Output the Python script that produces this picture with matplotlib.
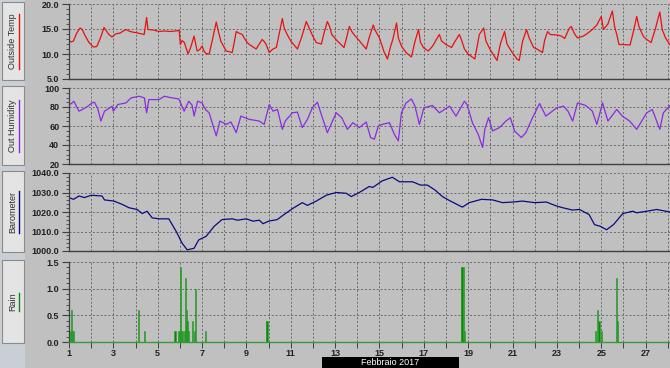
import matplotlib
matplotlib.use("Agg")
import matplotlib.pyplot as plt
from matplotlib.patches import Rectangle
from matplotlib.lines import Line2D
from matplotlib.ticker import MultipleLocator, FormatStrFormatter, FixedLocator, FixedFormatter

# ---- data (x = day of February 2017) ----
temp_day = [1.0, 1.1, 1.2, 1.35, 1.5, 1.6, 1.7, 1.9, 2.1, 2.25, 2.4, 2.58, 2.7, 2.8, 2.94, 3.1, 3.3, 3.57,
            3.7, 3.85, 4.1, 4.39, 4.5, 4.56, 4.8, 5.06, 5.3, 5.6, 5.97, 6.02, 6.1, 6.2, 6.37, 6.5, 6.64,
            6.72, 6.78, 6.9, 7.0, 7.1, 7.18, 7.32, 7.45, 7.64, 7.7, 7.85, 8.09, 8.36, 8.45, 8.54, 8.65,
            8.81, 9.0, 9.13, 9.44, 9.55, 9.71, 9.8, 9.89, 10.03, 10.2, 10.35, 10.5, 10.62, 10.7, 10.85,
            11.0, 11.3, 11.5, 11.7, 11.8, 12.0, 12.15, 12.38, 12.5, 12.65, 12.75, 12.85, 13.1, 13.4,
            13.5, 13.64, 13.75, 13.85, 14.1, 14.4, 14.55, 14.72, 14.8, 15.0, 15.2, 15.36, 15.5, 15.6,
            15.77, 15.85, 16.0, 16.2, 16.44, 16.6, 16.76, 16.85, 17.0, 17.2, 17.4, 17.55, 17.7, 17.8,
            18.0, 18.25, 18.4, 18.6, 18.7, 18.83, 19.0, 19.3, 19.5, 19.7, 19.8, 20.0, 20.3, 20.45,
            20.64, 20.75, 21.0, 21.2, 21.3, 21.45, 21.63, 21.75, 21.95, 22.1, 22.35, 22.45, 22.58,
            22.7, 23.0, 23.2, 23.35, 23.5, 23.57, 23.65, 23.8, 23.93, 24.2, 24.4, 24.6, 24.8, 25.0,
            25.1, 25.3, 25.5, 25.6, 25.7, 25.8, 26.0, 26.3, 26.45, 26.6, 26.7, 26.9, 27.05, 27.25,
            27.45, 27.64, 27.75, 27.9, 28.09]
temp_val = [12.7, 12.4, 12.6, 14.2, 15.2, 14.9, 13.9, 12.3, 11.4, 11.5, 13.0, 15.3, 14.5, 13.9, 13.4, 14.0,
            14.2, 14.9, 14.6, 14.4, 14.2, 13.9, 17.3, 14.9, 14.8, 14.5, 14.6, 14.5, 14.7, 11.9, 12.7,
            12.3, 10.0, 11.5, 13.6, 11.8, 10.6, 10.9, 11.6, 10.5, 10.1, 10.0, 12.5, 16.4, 15.2, 12.5,
            10.6, 10.3, 12.3, 14.5, 14.2, 13.9, 12.5, 11.9, 11.0, 11.8, 12.9, 12.5, 11.9, 10.3, 11.0,
            11.3, 14.5, 17.1, 15.2, 13.8, 12.6, 11.0, 13.5, 16.5, 15.5, 13.5, 12.3, 12.0, 14.2, 16.5,
            15.5, 13.9, 12.6, 11.3, 13.0, 15.5, 14.5, 13.9, 12.6, 11.0, 13.5, 15.8, 14.8, 13.2, 10.5,
            9.0, 11.5, 12.9, 16.2, 13.2, 11.5, 10.3, 9.4, 12.5, 14.9, 12.3, 11.2, 10.6, 11.6, 12.8,
            13.9, 12.6, 11.9, 11.3, 12.5, 13.9, 12.8, 11.0, 10.0, 9.0, 13.9, 15.2, 12.6, 10.8, 8.7,
            12.0, 14.5, 12.0, 10.2, 9.0, 8.7, 12.5, 14.9, 13.2, 11.3, 11.0, 10.3, 12.8, 14.5, 13.9,
            13.8, 13.6, 13.1, 14.6, 15.2, 15.5, 14.0, 13.2, 13.6, 14.2, 14.9, 15.8, 17.5, 14.9, 16.0,
            18.6, 15.5, 13.9, 11.9, 11.9, 11.8, 14.5, 17.5, 15.5, 13.5, 12.9, 12.3, 15.2, 18.4, 14.9,
            13.2, 11.9]

hum_day = [1.0, 1.1, 1.22, 1.35, 1.45, 1.6, 1.8, 2.04, 2.15, 2.3, 2.44, 2.6, 2.8, 2.94, 3.0, 3.2, 3.57,
           3.8, 4.16, 4.4, 4.5, 4.6, 5.06, 5.3, 5.65, 5.95, 6.19, 6.4, 6.55, 6.64, 6.8, 7.0, 7.15, 7.32,
           7.5, 7.64, 7.8, 8.09, 8.3, 8.54, 8.75, 9.13, 9.58, 9.8, 10.03, 10.2, 10.4, 10.62, 10.75,
           11.07, 11.3, 11.52, 11.75, 11.97, 12.2, 12.4, 12.65, 13.05, 13.3, 13.55, 13.8, 14.09, 14.4,
           14.6, 14.77, 14.95, 15.13, 15.45, 15.67, 15.85, 15.99, 16.2, 16.44, 16.6, 16.8, 17.0, 17.39,
           17.7, 18.16, 18.45, 18.83, 18.95, 19.19, 19.45, 19.65, 19.75, 19.92, 20.1, 20.41, 20.7,
           20.9, 21.09, 21.4, 21.6, 21.9, 22.22, 22.5, 22.99, 23.3, 23.5, 23.71, 23.93, 24.3, 24.6,
           24.8, 25.06, 25.3, 25.7, 25.95, 26.28, 26.6, 27.05, 27.3, 27.64, 27.8, 28.1]
hum_val = [82.6, 83.5, 86.1, 80.0, 75.6, 77.4, 80.0, 84.3, 85.0, 78.0, 65.2, 75.6, 78.5, 80.9, 75.6, 82.6,
           84.3, 89.6, 91.3, 89.6, 73.9, 87.8, 87.8, 91.3, 89.6, 88.5, 75.6, 86.1, 82.0, 70.4, 86.1,
           84.3, 77.4, 73.9, 60.0, 49.5, 65.2, 61.7, 64.2, 53.0, 70.4, 67.0, 65.2, 61.7, 82.6, 75.6,
           77.4, 56.5, 65.2, 73.9, 74.6, 58.3, 67.0, 79.1, 85.0, 70.4, 53.0, 73.9, 68.7, 56.5, 63.5,
           58.3, 64.2, 47.8, 46.1, 60.0, 61.7, 63.5, 51.3, 44.3, 73.9, 84.3, 88.5, 80.9, 61.7, 79.1,
           81.6, 73.9, 80.9, 70.4, 86.1, 82.6, 63.5, 51.3, 37.4, 56.5, 68.7, 54.8, 58.3, 65.2, 68.7,
           54.8, 47.8, 53.0, 68.7, 83.7, 70.4, 79.1, 80.9, 75.6, 65.2, 84.3, 81.6, 75.6, 61.7, 84.3,
           65.2, 77.4, 70.4, 65.2, 56.5, 73.9, 77.4, 56.5, 73.9, 81.6]

baro_day = [1.0, 1.2, 1.45, 1.7, 2.0, 2.49, 2.6, 3.03, 3.4, 3.7, 4.07, 4.3, 4.52, 4.75, 5.06, 5.5, 5.83,
            6.1, 6.33, 6.64, 6.85, 7.18, 7.55, 7.9, 8.36, 8.6, 8.99, 9.3, 9.58, 9.75, 10.0, 10.39, 10.6,
            11.07, 11.52, 11.75, 12.15, 12.6, 13.05, 13.5, 13.73, 14.09, 14.54, 14.7, 15.13, 15.58,
            15.9, 16.49, 16.85, 17.16, 17.5, 17.84, 18.2, 18.74, 19.05, 19.6, 20.1, 20.55, 21.0, 21.45,
            22.0, 22.53, 23.0, 23.26, 23.7, 24.02, 24.45, 24.7, 24.95, 25.24, 25.55, 25.97, 26.42,
            26.6, 27.05, 27.5, 28.1]
baro_val = [1027.4, 1026.5, 1028.2, 1027.4, 1028.6, 1028.2, 1026.2, 1025.6, 1023.9, 1022.2, 1021.3,
            1019.2, 1020.4, 1017.0, 1016.5, 1016.5, 1010.1, 1004.0, 1000.6, 1001.4, 1005.7, 1007.5,
            1012.7, 1016.1, 1016.5, 1015.8, 1016.5, 1015.3, 1015.8, 1014.0, 1015.3, 1016.1, 1017.9,
            1021.7, 1024.8, 1023.4, 1025.6, 1028.6, 1030.0, 1029.6, 1027.9, 1030.0, 1033.1, 1032.6,
            1036.0, 1037.8, 1035.5, 1035.5, 1033.8, 1033.8, 1031.3, 1027.9, 1025.6, 1022.5, 1024.8,
            1026.5, 1026.2, 1024.8, 1025.1, 1025.6, 1024.8, 1025.1, 1023.0, 1022.2, 1021.0, 1021.3,
            1018.7, 1013.5, 1012.7, 1010.9, 1013.5, 1019.2, 1020.4, 1019.6, 1020.4, 1021.3, 1020.0]

rain_day = [1.08, 1.12, 1.16, 1.2, 4.13, 4.4, 5.78, 5.95, 5.99, 6.02, 6.06, 6.1, 6.22, 6.25, 6.28, 6.3,
            6.33, 6.37, 6.58, 6.64, 6.72, 7.15, 9.9, 9.93, 18.68, 18.72, 18.78, 18.82, 24.75, 24.85,
            24.9, 25.0, 25.7, 25.75]
rain_val = [0.2, 0.6, 0.2, 0.2, 0.6, 0.2, 0.2, 0.2, 0.2, 1.4, 0.2, 0.2, 0.2, 1.2, 0.4, 0.6, 0.4, 0.2,
            0.4, 0.2, 1.0, 0.2, 0.4, 0.4, 1.4, 1.4, 1.4, 0.2, 0.2, 0.6, 0.4, 0.2, 1.2, 0.4]

panel_names = ["Outside Temp", "Out Humidity", "Barometer", "Rain"]
panel_colors = ["#e81010", "#8a2be2", "#0a0a80", "#0a8a0a"]
month_label = "Febbraio 2017"

# ---- layout (pixels of a 670x368 image) ----
W, H = 670, 368
BG = "#c0c0c0"
fig = plt.figure(figsize=(W / 100, H / 100), dpi=100, facecolor=BG)

panel_px = [(4, 79), (88, 164), (173, 251), (262, 342)]   # (top, bottom)
x0 = 69

def ax_rect(top, bottom):
    return [x0 / W, 1 - bottom / H, 1 - x0 / W, (bottom - top) / H]

axes = [fig.add_axes(ax_rect(t, b)) for t, b in panel_px]

# left strip and buttons
fig.patches.append(Rectangle((0, 0), 25 / W, 1, transform=fig.transFigure,
                             facecolor="#c9cfd4", edgecolor="none", zorder=0))
tick_font = dict(family="Liberation Sans", size=6.5, weight="bold")
fig.canvas.draw()
renderer = fig.canvas.get_renderer()
for (t, b), name, col in zip(panel_px, panel_names, panel_colors):
    bt, bb = t - 2, b + 1
    fig.patches.append(Rectangle((2 / W, 1 - bb / H), 22 / W, (bb - bt) / H, transform=fig.transFigure,
                                 facecolor="#e4e4e4", edgecolor="#8a8a8a", linewidth=0.8, zorder=1))
    yc = 1 - (t + b) / 2 / H
    txt = fig.text(12.5 / W, yc, name, rotation=90, ha="center", va="center",
                   fontsize=6.5, color="#303030", family="Liberation Sans", zorder=3)
    ext = txt.get_window_extent(renderer)
    y_lo, y_hi = ext.y0 / (H), ext.y1 / (H)
    fig.lines.append(Line2D([18.5 / W, 18.5 / W], [y_lo, y_hi], transform=fig.transFigure,
                            color=col, linewidth=1.0, zorder=3))

# ---- draw series ----
axes[0].plot(temp_day, temp_val, color=panel_colors[0], linewidth=0.9)
axes[1].plot(hum_day, hum_val, color=panel_colors[1], linewidth=0.9)
axes[2].plot(baro_day, baro_val, color=panel_colors[2], linewidth=0.9)
axes[3].bar(rain_day, rain_val, width=0.05, color="#0a8a0a", edgecolor="#2aa02a", linewidth=0.4)

ylims = [(5, 20), (20, 100), (1000, 1040), (0, 1.5)]
major = [5, 20, 10, 0.5]
minor = [1, 5, 2, 0.1]
fmts = ["%.1f", "%d", "%.1f", "%.1f"]

for i, ax in enumerate(axes):
    ax.set_facecolor(BG)
    ax.set_xlim(1, 28.1)
    ax.set_ylim(*ylims[i])
    ax.yaxis.set_major_locator(MultipleLocator(major[i]))
    ax.yaxis.set_minor_locator(MultipleLocator(minor[i]))
    ax.yaxis.set_major_formatter(FormatStrFormatter(fmts[i]))
    ax.xaxis.set_major_locator(MultipleLocator(1))
    for s in ["top", "right"]:
        ax.spines[s].set_visible(False)
    ax.spines["left"].set_color("#404040")
    ax.spines["bottom"].set_color("#404040")
    ax.spines["left"].set_linewidth(0.9)
    ax.spines["bottom"].set_linewidth(1.0)
    ax.grid(True, which="major", color="#6a6a6a", linestyle=(0, (2, 2)), linewidth=0.7)
    ax.set_axisbelow(True)
    ax.tick_params(axis="y", which="major", length=5, width=0.8, color="#404040", pad=2,
                   labelsize=6.5, labelcolor="#202020")
    ax.tick_params(axis="y", which="minor", length=2.5, width=0.6, color="#404040")
    for lab in ax.get_yticklabels():
        lab.set_fontweight("bold")
        lab.set_family("Liberation Sans")
    if i < 3:
        ax.tick_params(axis="x", length=0, labelbottom=False)

rain_ax = axes[3]
rain_ax.spines["bottom"].set_color("#3a9a3a")
days = list(range(1, 29))
rain_ax.xaxis.set_major_locator(FixedLocator(days))
rain_ax.xaxis.set_major_formatter(FixedFormatter([str(d) if d % 2 == 1 else "" for d in days]))
rain_ax.tick_params(axis="x", length=4, width=0.7, color="#404040", pad=1, labelsize=6.5,
                    labelcolor="#202020")
for lab in rain_ax.get_xticklabels():
    lab.set_fontweight("bold")
    lab.set_family("Liberation Sans")

# month bar
fig.patches.append(Rectangle((322 / W, 0), 137 / W, 11 / H, transform=fig.transFigure,
                             facecolor="black", edgecolor="none", zorder=2))
fig.text(390.5 / W, 5.5 / H, month_label, color="white", ha="center", va="center",
         fontsize=6.5, family="Liberation Sans", zorder=3)

fig.savefig("out.png", dpi=100, facecolor=BG)
